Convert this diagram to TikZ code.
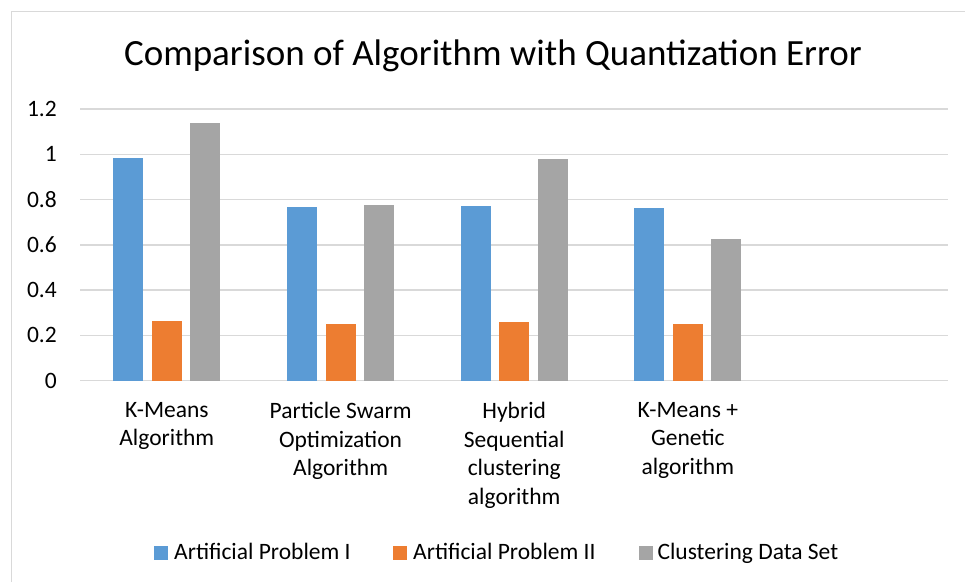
\documentclass[tikz,border=0pt]{standalone}
\usepackage{fontspec}
\setmainfont{Carlito}

\definecolor{probI}{HTML}{5B9BD5}
\definecolor{probII}{HTML}{ED7D31}
\definecolor{clusterset}{HTML}{A5A5A5}
\definecolor{gridgray}{HTML}{D9D9D9}

\begin{document}
\begin{tikzpicture}[
    x=1pt, y=-1pt,
    grid/.style={draw=gridgray, line width=1.5pt},
    frame/.style={draw=gridgray, line width=1pt},
    lbl/.style={font=\fontsize{23.5}{28.7}\selectfont, inner sep=0pt},
    catlbl/.style={lbl, align=center, anchor=north},
    key/.style={minimum size=14pt, inner sep=0pt, anchor=north west}
]
\useasboundingbox (0,0) rectangle (965,582);

% Rahmen des Diagrammbereichs
\draw[frame] (11,582) -- (11,11) -- (965,11);

% Titel
\node[font=\fontsize{37}{44}\selectfont, inner sep=0pt, anchor=base] (title) at (493,65.7)
    {Comparison of Algorithm with Quantization Error};

% Gitterlinien und Achsenbeschriftung (0.2 = 45.26 px)
\foreach \t [count=\i] in {0,0.2,0.4,0.6,0.8,1,1.2} {
    \draw[grid] (80,380.7-\t*226.3) -- (948,380.7-\t*226.3);
    \node[lbl, anchor=east] (ytick\i) at (57,380.7-\t*226.3) {\t};
}

% Balken: Gruppenmitte / Problem I / Problem II / Datensatz
\foreach \cx/\a/\b/\c in {166.8/0.982/0.262/1.137, 340.6/0.769/0.250/0.775,
                          514.2/0.772/0.258/0.980, 687.8/0.763/0.249/0.627} {
    \fill[probI]      (\cx-53.5,380.7) rectangle (\cx-23.5,380.7-\a*226.3);
    \fill[probII]     (\cx-15,380.7)   rectangle (\cx+15,380.7-\b*226.3);
    \fill[clusterset] (\cx+23.5,380.7) rectangle (\cx+53.5,380.7-\c*226.3);
}

% Kategorien
\node[catlbl] (kmeans) at (166.8,402) {K-Means\\Algorithm};
\node[catlbl] (pso)    at (340.6,402) {Particle Swarm\\Optimization\\Algorithm};
\node[catlbl] (hybrid) at (514.2,402) {Hybrid\\Sequential\\clustering\\algorithm};
\node[catlbl] (kmga)   at (687.8,402) {K-Means +\\Genetic\\algorithm};

% Legende
\node[key, fill=probI] (keyA) at (154,546) {};
\node[lbl, anchor=base west] (txtA) at (174,559.3) {Artificial Problem I};
\node[key, fill=probII] (keyB) at (392.7,546) {};
\node[lbl, anchor=base west] (txtB) at (413,559.3) {Artificial Problem II};
\node[key, fill=clusterset] (keyC) at (638.3,546) {};
\node[lbl, anchor=base west] (txtC) at (657.3,559.3) {Clustering Data Set};
\end{tikzpicture}
\end{document}
